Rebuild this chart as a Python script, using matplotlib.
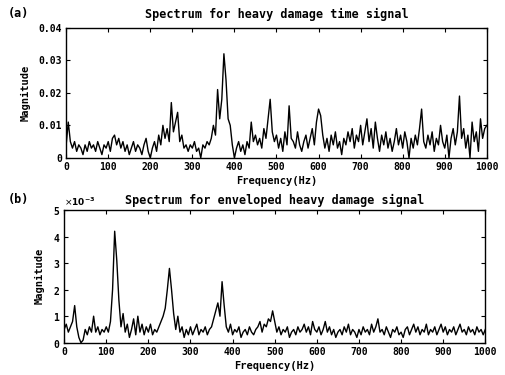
import numpy as np
import matplotlib
matplotlib.use("Agg")
import matplotlib.pyplot as plt
from matplotlib.ticker import ScalarFormatter

# frequency grid, Hz
freq = np.arange(0, 1001, 5)

# (a) spectrum of heavy damage time signal, in units of 1e-3
time_mag = [
    4, 11, 5, 3, 5, 2, 4, 3, 1, 4, 2, 5, 3, 4, 2, 5, 3, 1, 4, 3,
    5, 2, 6, 7, 4, 6, 3, 5, 2, 4, 1, 3, 5, 2, 4, 3, 1, 4, 6, 2,
    0, 3, 5, 2, 7, 4, 10, 6, 9, 5, 17, 8, 11, 14, 5, 7, 3, 4, 2, 4,
    3, 5, 2, 3, 0, 4, 3, 5, 4, 6, 10, 7, 21, 12, 18, 32, 24, 12, 10, 4,
    0, 3, 5, 2, 4, 1, 5, 3, 11, 5, 7, 4, 6, 3, 9, 6, 12, 18, 8, 5,
    7, 3, 6, 2, 8, 4, 16, 6, 5, 3, 8, 4, 2, 5, 7, 3, 6, 9, 4, 11,
    15, 13, 7, 3, 6, 2, 7, 4, 8, 3, 5, 1, 6, 4, 8, 5, 9, 3, 7, 5,
    10, 4, 8, 12, 5, 9, 3, 11, 6, 2, 7, 4, 8, 3, 6, 2, 5, 9, 4, 7,
    3, 8, 5, 0, 6, 3, 7, 4, 9, 15, 5, 3, 7, 4, 8, 2, 6, 4, 10, 5,
    3, 7, 0, 6, 9, 4, 8, 19, 6, 9, 3, 7, 0, 11, 5, 8, 2, 12, 6, 9, 10,
]

# (b) spectrum of enveloped heavy damage signal, in units of 1e-3
env_mag = [
    0.5, 0.7, 0.4, 0.6, 0.8, 1.4, 0.6, 0.2, 0.0, 0.1, 0.5, 0.3, 0.6, 0.4, 1.0, 0.4, 0.6, 0.3, 0.5, 0.4,
    0.6, 0.4, 0.8, 2.0, 4.2, 3.1, 1.6, 0.6, 1.1, 0.4, 0.7, 0.2, 0.5, 0.9, 0.3, 1.0, 0.4, 0.7, 0.3, 0.6,
    0.4, 0.7, 0.3, 0.5, 0.4, 0.6, 0.8, 1.0, 1.3, 2.0, 2.8, 2.0, 1.1, 0.5, 1.0, 0.4, 0.6, 0.2, 0.5, 0.3,
    0.6, 0.3, 0.5, 0.7, 0.3, 0.5, 0.4, 0.6, 0.3, 0.5, 0.6, 0.9, 1.2, 1.5, 1.0, 2.3, 1.4, 0.6, 0.4, 0.7,
    0.3, 0.5, 0.4, 0.6, 0.2, 0.4, 0.5, 0.3, 0.6, 0.4, 0.3, 0.5, 0.6, 0.8, 0.4, 0.7, 0.6, 0.9, 0.8, 1.2,
    0.8, 0.4, 0.6, 0.3, 0.5, 0.4, 0.6, 0.2, 0.4, 0.5, 0.3, 0.6, 0.4, 0.5, 0.7, 0.4, 0.6, 0.3, 0.8, 0.5,
    0.4, 0.6, 0.3, 0.5, 0.8, 0.4, 0.6, 0.3, 0.5, 0.2, 0.4, 0.5, 0.3, 0.6, 0.4, 0.7, 0.3, 0.5, 0.4, 0.2,
    0.5, 0.3, 0.6, 0.4, 0.5, 0.3, 0.7, 0.4, 0.6, 0.9, 0.4, 0.5, 0.3, 0.6, 0.4, 0.2, 0.5, 0.4, 0.6, 0.3,
    0.4, 0.2, 0.5, 0.6, 0.3, 0.5, 0.7, 0.4, 0.6, 0.3, 0.5, 0.4, 0.7, 0.3, 0.5, 0.4, 0.6, 0.3, 0.5, 0.7,
    0.4, 0.6, 0.3, 0.5, 0.4, 0.6, 0.3, 0.5, 0.7, 0.4, 0.5, 0.3, 0.6, 0.4, 0.5, 0.3, 0.6, 0.4, 0.5, 0.3, 0.5,
]

x_ticks = [0, 100, 200, 300, 400, 500, 600, 700, 800, 900, 1000]
top_yticks = [0, 0.01, 0.02, 0.03, 0.04]
top_ylabels = ["0", "0.01", "0.02", "0.03", "0.04"]

font = {"family": "DejaVu Sans Mono", "weight": "bold"}

fig = plt.figure(figsize=(5.05, 3.75), dpi=100)
ax1 = fig.add_axes([0.131, 0.579, 0.833, 0.347])
ax2 = fig.add_axes([0.127, 0.086, 0.834, 0.354])


def style_axis(ax):
    ax.set_xlim(0, 1000)
    ax.set_xticks(x_ticks)
    ax.set_xticklabels([str(t) for t in x_ticks], fontdict=font, fontsize=7)
    ax.tick_params(direction="in", length=3, width=0.8, top=True, right=True, pad=3)
    for s in ax.spines.values():
        s.set_linewidth(1.0)
    ax.set_xlabel("Frequency(Hz)", fontdict=font, fontsize=7.5, labelpad=3)
    ax.set_ylabel("Magnitude", fontdict=font, fontsize=7.5, labelpad=6)


ax1.plot(freq, np.array(time_mag) * 1e-3, color="black", lw=1.0)
style_axis(ax1)
ax1.set_ylim(0, 0.04)
ax1.set_yticks(top_yticks)
ax1.set_yticklabels(top_ylabels, fontdict=font, fontsize=7)
ax1.set_title("Spectrum for heavy damage time signal", fontdict=font, fontsize=8.5, pad=7)
fig.text(0.015, 0.955, "(a)", fontdict=font, fontsize=8.5)

ax2.plot(freq, np.array(env_mag) * 1e-3, color="black", lw=1.0)
style_axis(ax2)
ax2.set_ylim(0, 5e-3)
ax2.set_yticks([0, 1e-3, 2e-3, 3e-3, 4e-3, 5e-3])
fmt = ScalarFormatter(useMathText=True)
fmt.set_powerlimits((-2, 2))
ax2.yaxis.set_major_formatter(fmt)
for lab in ax2.get_yticklabels():
    lab.set_fontfamily("DejaVu Sans Mono")
    lab.set_fontweight("bold")
    lab.set_fontsize(7)
ax2.yaxis.get_offset_text().set_fontsize(6.5)
ax2.yaxis.get_offset_text().set_fontweight("bold")
ax2.set_title("Spectrum for enveloped heavy damage signal", fontdict=font, fontsize=8.5, pad=4)
fig.text(0.015, 0.46, "(b)", fontdict=font, fontsize=8.5)

fig.savefig("out.png", dpi=100)
